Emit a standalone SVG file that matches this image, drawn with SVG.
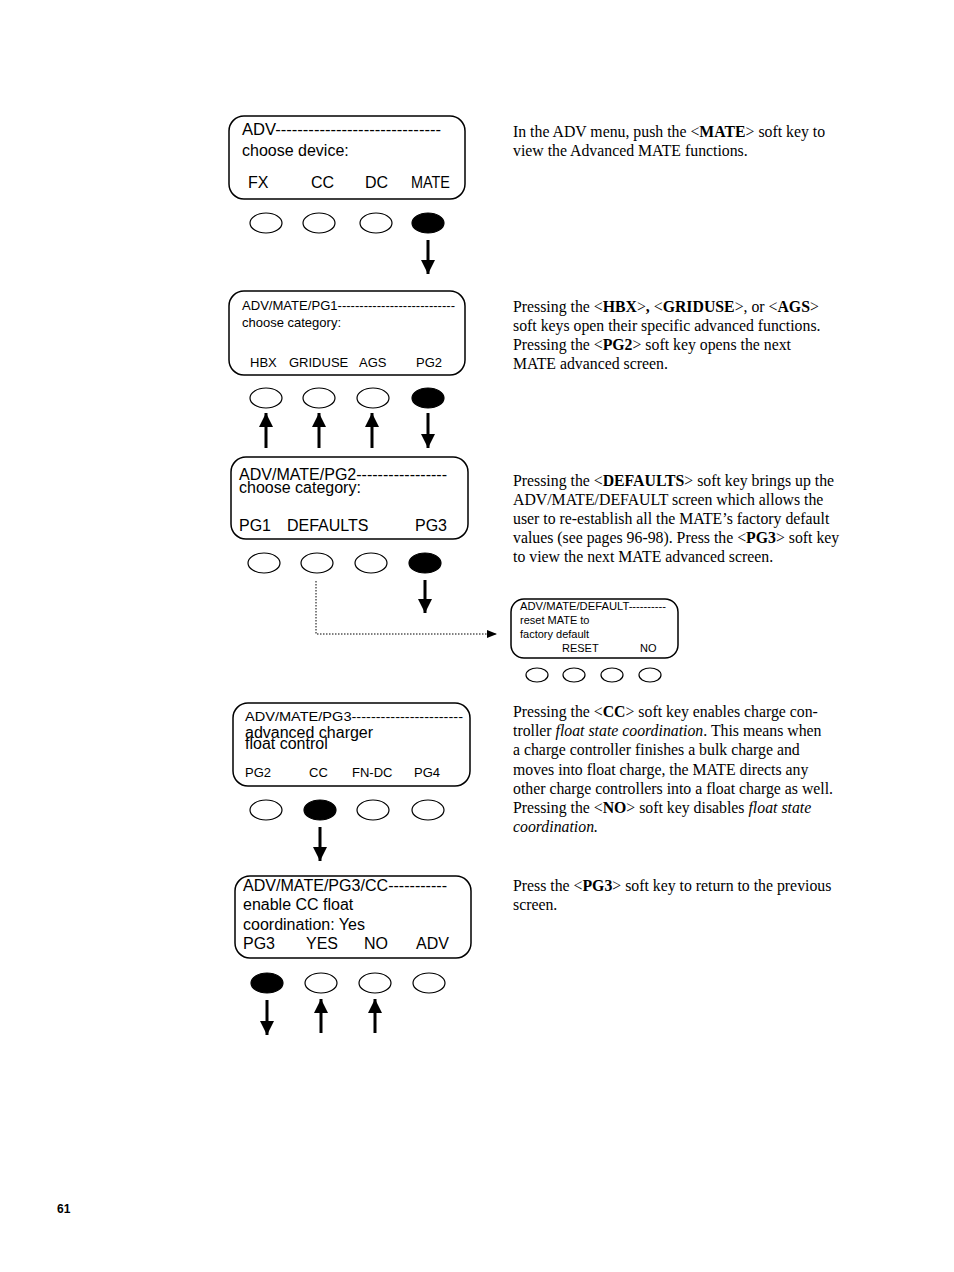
<svg xmlns="http://www.w3.org/2000/svg" width="954" height="1272" viewBox="0 0 954 1272">
<style>
.scr{fill:#fff;stroke:#000;stroke-width:1.5}
.k{fill:#fff;stroke:#000;stroke-width:1.2}
.kf{fill:#000;stroke:#000;stroke-width:1.2}
.t16{font-family:"Liberation Sans",Arial,sans-serif;font-size:16px;fill:#000}
.t13{font-family:"Liberation Sans",Arial,sans-serif;font-size:13px;fill:#000}
.t11{font-family:"Liberation Sans",Arial,sans-serif;font-size:11px;fill:#000}
.body{font-family:"Liberation Serif","Times New Roman",serif;font-size:15.8px;fill:#000}
.ar{stroke:#000;stroke-width:3;fill:none}
.dot{stroke:#000;stroke-width:1;stroke-dasharray:1.5 1.5;fill:none}
</style>
<defs>
<marker id="ah" markerUnits="userSpaceOnUse" markerWidth="14" markerHeight="16" viewBox="0 0 14 16" refX="14" refY="7" orient="auto">
<path d="M0,0 L14,7 L0,14 Z" fill="#000"/>
</marker>
<marker id="ahs" markerUnits="userSpaceOnUse" markerWidth="10" markerHeight="10" viewBox="0 0 10 10" refX="10" refY="4" orient="auto">
<path d="M0,0 L10,4 L0,8 Z" fill="#000"/>
</marker>
</defs>
<rect width="954" height="1272" fill="#fff"/>

<g id="screen-adv">
<rect class="scr" x="229" y="116" width="236" height="83" rx="15"/>
<text class="t16" x="242" y="135" textLength="199" lengthAdjust="spacingAndGlyphs">ADV------------------------------</text>
<text class="t16" x="242" y="156">choose device:</text>
<text class="t16" x="248" y="188">FX</text>
<text class="t16" x="311" y="188">CC</text>
<text class="t16" x="365" y="188">DC</text>
<text class="t16" x="411" y="188" textLength="39" lengthAdjust="spacingAndGlyphs">MATE</text>
<ellipse class="k" cx="266" cy="223" rx="16" ry="10"/>
<ellipse class="k" cx="319" cy="223" rx="16" ry="10"/>
<ellipse class="k" cx="376" cy="223" rx="16" ry="10"/>
<ellipse class="kf" cx="428" cy="223" rx="16" ry="10"/>
</g>

<g id="screen-pg1">
<rect class="scr" x="229" y="291" width="236" height="84" rx="15"/>
<text class="t13" x="242" y="310" textLength="213" lengthAdjust="spacingAndGlyphs">ADV/MATE/PG1---------------------------</text>
<text class="t13" x="242" y="327">choose category:</text>
<text class="t13" x="250" y="367">HBX</text>
<text class="t13" x="289" y="367">GRIDUSE</text>
<text class="t13" x="359" y="367">AGS</text>
<text class="t13" x="416" y="367">PG2</text>
<ellipse class="k" cx="266" cy="398" rx="16" ry="10"/>
<ellipse class="k" cx="319" cy="398" rx="16" ry="10"/>
<ellipse class="k" cx="373" cy="398" rx="16" ry="10"/>
<ellipse class="kf" cx="428" cy="398" rx="16" ry="10"/>
</g>

<g id="screen-pg2">
<rect class="scr" x="231" y="457" width="237" height="82" rx="15"/>
<text class="t16" x="239" y="480" textLength="208" lengthAdjust="spacingAndGlyphs">ADV/MATE/PG2-----------------</text>
<text class="t16" x="239" y="493">choose category:</text>
<text class="t16" x="239" y="531">PG1</text>
<text class="t16" x="287" y="531">DEFAULTS</text>
<text class="t16" x="415" y="531">PG3</text>
<ellipse class="k" cx="264" cy="563" rx="16" ry="10"/>
<ellipse class="k" cx="317" cy="563" rx="16" ry="10"/>
<ellipse class="k" cx="371" cy="563" rx="16" ry="10"/>
<ellipse class="kf" cx="425" cy="563" rx="16" ry="10"/>
</g>

<g id="screen-default">
<rect class="scr" x="511" y="599" width="167" height="59" rx="13" stroke-width="1.2"/>
<text class="t11" x="520" y="610" textLength="146" lengthAdjust="spacingAndGlyphs">ADV/MATE/DEFAULT----------</text>
<text class="t11" x="520" y="624">reset MATE to</text>
<text class="t11" x="520" y="638">factory default</text>
<text class="t11" x="562" y="652">RESET</text>
<text class="t11" x="640" y="652">NO</text>
<ellipse class="k" cx="537" cy="675" rx="11" ry="7"/>
<ellipse class="k" cx="574" cy="675" rx="11" ry="7"/>
<ellipse class="k" cx="612" cy="675" rx="11" ry="7"/>
<ellipse class="k" cx="650" cy="675" rx="11" ry="7"/>
</g>

<g id="screen-pg3">
<rect class="scr" x="233" y="703" width="237" height="83" rx="15"/>
<text class="t13" x="245" y="721" textLength="218" lengthAdjust="spacingAndGlyphs">ADV/MATE/PG3-----------------------</text>
<text class="t16" x="245" y="738" font-size="15">advanced charger</text>
<text class="t16" x="245" y="749" font-size="15">float control</text>
<text class="t13" x="245" y="777">PG2</text>
<text class="t13" x="309" y="777">CC</text>
<text class="t13" x="352" y="777">FN-DC</text>
<text class="t13" x="414" y="777">PG4</text>
<ellipse class="k" cx="266" cy="810" rx="16" ry="10"/>
<ellipse class="kf" cx="320" cy="810" rx="16" ry="10"/>
<ellipse class="k" cx="373" cy="810" rx="16" ry="10"/>
<ellipse class="k" cx="428" cy="810" rx="16" ry="10"/>
</g>

<g id="screen-pg3cc">
<rect class="scr" x="235" y="876" width="236" height="82" rx="15"/>
<text class="t16" x="243" y="891" textLength="204" lengthAdjust="spacingAndGlyphs">ADV/MATE/PG3/CC-----------</text>
<text class="t16" x="243" y="910">enable CC float</text>
<text class="t16" x="243" y="930">coordination: Yes</text>
<text class="t16" x="243" y="949">PG3</text>
<text class="t16" x="306" y="949">YES</text>
<text class="t16" x="364" y="949">NO</text>
<text class="t16" x="416" y="949">ADV</text>
<ellipse class="kf" cx="267" cy="983" rx="16" ry="10"/>
<ellipse class="k" cx="321" cy="983" rx="16" ry="10"/>
<ellipse class="k" cx="375" cy="983" rx="16" ry="10"/>
<ellipse class="k" cx="429" cy="983" rx="16" ry="10"/>
</g>

<g id="connectors">
<line class="ar" x1="428" y1="240" x2="428" y2="274" marker-end="url(#ah)"/>
<line class="ar" x1="266" y1="448" x2="266" y2="413" marker-end="url(#ah)"/>
<line class="ar" x1="319" y1="448" x2="319" y2="413" marker-end="url(#ah)"/>
<line class="ar" x1="372" y1="448" x2="372" y2="413" marker-end="url(#ah)"/>
<line class="ar" x1="428" y1="413" x2="428" y2="448" marker-end="url(#ah)"/>
<line class="ar" x1="425" y1="580" x2="425" y2="613" marker-end="url(#ah)"/>
<path class="dot" d="M316,581 V634 H497" marker-end="url(#ahs)"/>
<line class="ar" x1="320" y1="827" x2="320" y2="861" marker-end="url(#ah)"/>
<line class="ar" x1="267" y1="1000" x2="267" y2="1035" marker-end="url(#ah)"/>
<line class="ar" x1="321" y1="1033" x2="321" y2="999" marker-end="url(#ah)"/>
<line class="ar" x1="375" y1="1033" x2="375" y2="999" marker-end="url(#ah)"/>
</g>

<g id="text-1">
<text class="body" x="513" y="137">In the ADV menu, push the &lt;<tspan font-weight="bold">MATE</tspan>&gt; soft key to</text>
<text class="body" x="513" y="156">view the Advanced MATE functions.</text>
</g>
<g id="text-2">
<text class="body" x="513" y="312">Pressing the &lt;<tspan font-weight="bold">HBX</tspan>&gt;<tspan font-weight="bold">, </tspan>&lt;<tspan font-weight="bold">GRIDUSE</tspan>&gt;, or &lt;<tspan font-weight="bold">AGS</tspan>&gt;</text>
<text class="body" x="513" y="331">soft keys open their specific advanced functions.</text>
<text class="body" x="513" y="350">Pressing the &lt;<tspan font-weight="bold">PG2</tspan>&gt; soft key opens the next</text>
<text class="body" x="513" y="369">MATE advanced screen.</text>
</g>
<g id="text-3">
<text class="body" x="513" y="486">Pressing the &lt;<tspan font-weight="bold">DEFAULTS</tspan>&gt; soft key brings up the</text>
<text class="body" x="513" y="505">ADV/MATE/DEFAULT screen which allows the</text>
<text class="body" x="513" y="524">user to re-establish all the MATE’s factory default</text>
<text class="body" x="513" y="543">values (see pages 96-98). Press the &lt;<tspan font-weight="bold">PG3</tspan>&gt; soft key</text>
<text class="body" x="513" y="562">to view the next MATE advanced screen.</text>
</g>
<g id="text-4">
<text class="body" x="513" y="717">Pressing the &lt;<tspan font-weight="bold">CC</tspan>&gt; soft key enables charge con-</text>
<text class="body" x="513" y="736">troller <tspan font-style="italic">float state coordination</tspan>. This means when</text>
<text class="body" x="513" y="755">a charge controller finishes a bulk charge and</text>
<text class="body" x="513" y="775">moves into float charge, the MATE directs any</text>
<text class="body" x="513" y="794">other charge controllers into a float charge as well.</text>
<text class="body" x="513" y="813">Pressing the &lt;<tspan font-weight="bold">NO</tspan>&gt; soft key disables <tspan font-style="italic">float state</tspan></text>
<text class="body" x="513" y="832" font-style="italic">coordination.</text>
</g>
<g id="text-5">
<text class="body" x="513" y="891">Press the &lt;<tspan font-weight="bold">PG3</tspan>&gt; soft key to return to the previous</text>
<text class="body" x="513" y="910">screen.</text>
</g>
<text x="57" y="1213" font-family="Liberation Sans,Arial,sans-serif" font-size="12" font-weight="bold">61</text>
</svg>
